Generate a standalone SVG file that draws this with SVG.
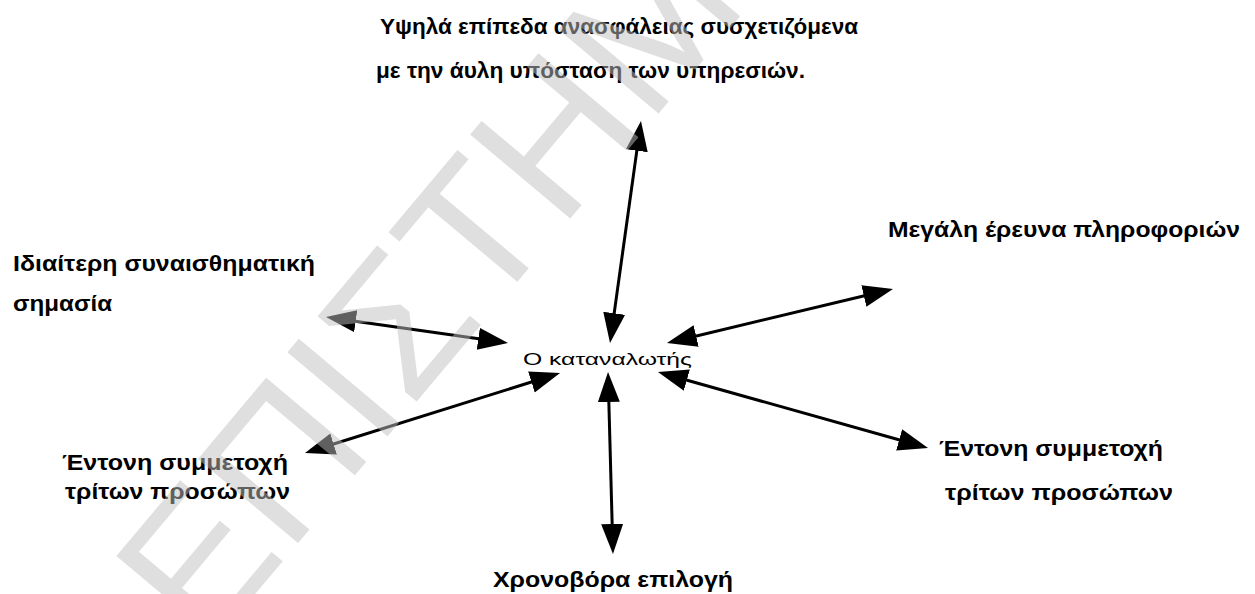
<svg xmlns="http://www.w3.org/2000/svg" width="1255" height="594" viewBox="0 0 1255 594">
  <style>
    .lbl { font-family: "Liberation Sans", Arial, sans-serif; font-weight: bold; font-size: 22px; fill: #000; }
    .centre { font-family: "Liberation Sans", Arial, sans-serif; font-size: 17px; fill: #000; }
    .link { stroke: #000; stroke-width: 3; fill: none; marker-start: url(#head); marker-end: url(#head); }
    .mark { font-family: "Liberation Sans", Arial, sans-serif; font-size: 190px; fill: #c0c0c0; fill-opacity: 0.5; }
  </style>
  <defs>
    <marker id="head" markerUnits="userSpaceOnUse" markerWidth="32" markerHeight="24" refX="20" refY="11" orient="auto-start-reverse">
      <path d="M0,0 L30,11 L0,22 z" fill="#000"/>
    </marker>
  </defs>
  <rect width="1255" height="594" fill="#fff"/>

  <!-- double-headed connectors radiating from the consumer -->
  <g id="connectors">
    <line class="link" x1="611.4" y1="333.1" x2="639.6" y2="130.9"/>
    <line class="link" x1="676.7" y1="340.7" x2="883.3" y2="291.3"/>
    <line class="link" x1="498.1" y1="341.6" x2="335.9" y2="318.4"/>
    <line class="link" x1="550.5" y1="376.0" x2="314.5" y2="450.0"/>
    <line class="link" x1="667.6" y1="374.7" x2="918.4" y2="445.3"/>
    <line class="link" x1="608.3" y1="382" x2="612.7" y2="544"/>
  </g>

  <g id="consumer">
    <text class="centre" x="523" y="365" textLength="169" lengthAdjust="spacingAndGlyphs">Ο καταναλωτής</text>
  </g>
  <g id="insecurity">
    <text class="lbl" x="380" y="34" textLength="478" lengthAdjust="spacingAndGlyphs">Υψηλά επίπεδα ανασφάλειας συσχετιζόμενα</text>
    <text class="lbl" x="376" y="78" textLength="429" lengthAdjust="spacingAndGlyphs">με την άυλη υπόσταση των υπηρεσιών.</text>
  </g>
  <g id="information">
    <text class="lbl" x="888" y="237" textLength="352" lengthAdjust="spacingAndGlyphs">Μεγάλη έρευνα πληροφοριών</text>
  </g>
  <g id="emotional">
    <text class="lbl" x="13" y="271" textLength="302" lengthAdjust="spacingAndGlyphs">Ιδιαίτερη συναισθηματική</text>
    <text class="lbl" x="13" y="311" textLength="99" lengthAdjust="spacingAndGlyphs">σημασία</text>
  </g>
  <g id="third-party-left">
    <text class="lbl" x="62" y="470" textLength="226" lengthAdjust="spacingAndGlyphs">Έντονη συμμετοχή</text>
    <text class="lbl" x="65" y="499" textLength="225" lengthAdjust="spacingAndGlyphs">τρίτων προσώπων</text>
  </g>
  <g id="third-party-right">
    <text class="lbl" x="939" y="456" textLength="224" lengthAdjust="spacingAndGlyphs">Έντονη συμμετοχή</text>
    <text class="lbl" x="945" y="500" textLength="228" lengthAdjust="spacingAndGlyphs">τρίτων προσώπων</text>
  </g>
  <g id="time-consuming">
    <text class="lbl" x="493" y="587" textLength="240" lengthAdjust="spacingAndGlyphs">Χρονοβόρα επιλογή</text>
  </g>

  <!-- translucent diagonal watermark laid over everything -->
  <g id="watermark">
    <text class="mark" transform="translate(206.6,652) rotate(-50)">ΕΠΙΣΤΗΜ</text>
  </g>
</svg>
